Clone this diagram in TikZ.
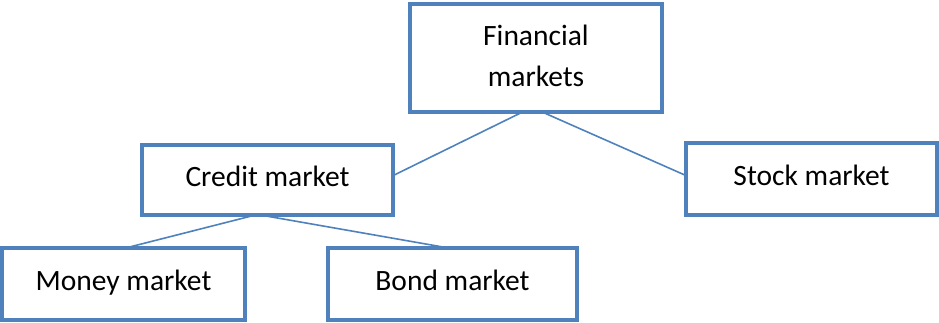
\documentclass[tikz,border=0pt]{standalone}
\usepackage{fontspec}
\setmainfont{Carlito}
\definecolor{boxblue}{HTML}{4F81BD}
\begin{document}
\begin{tikzpicture}[x=1pt,y=-1pt,
  box/.style={draw=boxblue,line width=4.5pt,fill=white,rectangle,inner sep=0pt,
    align=center,font=\fontsize{29.5}{41}\selectfont,text=black},
  single/.style={box,text height=20pt,text depth=8pt},
  link/.style={draw=boxblue,line width=1.6pt}]
\useasboundingbox (0,0) rectangle (939,322);
\node[box,minimum width=252pt,minimum height=108pt,text depth=4pt] (fin) at (536,58) {Financial\\markets};
\node[single,minimum width=251pt,minimum height=70pt] (credit) at (267.5,180) {Credit market};
\node[single,minimum width=251pt,minimum height=72pt] (stock) at (811.5,179) {Stock market};
\node[single,minimum width=243pt,minimum height=72pt] (money) at (123.5,284) {Money market};
\node[single,minimum width=249pt,minimum height=72pt] (bond) at (452.5,284) {Bond market};
\draw[link] ([xshift=-16pt,yshift=1pt]fin.south) -- ([xshift=-1pt,yshift=5pt]credit.east);
\draw[link] ([xshift=9pt,yshift=1pt]fin.south) -- ([xshift=1pt,yshift=4pt]stock.west);
\draw[link] ([xshift=-17pt,yshift=1pt]credit.south) -- ([xshift=7pt,yshift=-1pt]money.north);
\draw[link] ([xshift=0pt,yshift=1pt]credit.south) -- ([xshift=-11pt,yshift=-1pt]bond.north);
\end{tikzpicture}
\end{document}
